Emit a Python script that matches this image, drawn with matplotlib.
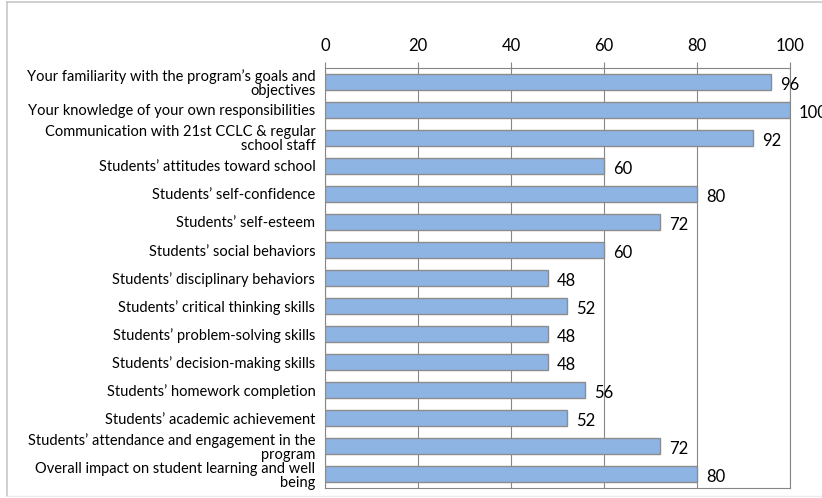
import matplotlib.pyplot as plt
from matplotlib.lines import Line2D

# survey items (top to bottom) and percent of staff responses
items = [
    "Your familiarity with the program\u2019s goals and\nobjectives",
    "Your knowledge of your own responsibilities",
    "Communication with 21st CCLC & regular\nschool staff",
    "Students\u2019 attitudes toward school",
    "Students\u2019 self-confidence",
    "Students\u2019 self-esteem",
    "Students\u2019 social behaviors",
    "Students\u2019 disciplinary behaviors",
    "Students\u2019 critical thinking skills",
    "Students\u2019 problem-solving skills",
    "Students\u2019 decision-making skills",
    "Students\u2019 homework completion",
    "Students\u2019 academic achievement",
    "Students\u2019 attendance and engagement in the\nprogram",
    "Overall impact on student learning and well\nbeing",
]
percent = [96, 100, 92, 60, 80, 72, 60, 48, 52, 48, 48, 56, 52, 72, 80]
x_ticks = [0, 20, 40, 60, 80, 100]

plt.rcParams['font.family'] = ['Lato', 'DejaVu Sans']

fig = plt.figure(figsize=(8.22, 4.98), dpi=100)
ax = fig.add_axes([325 / 822, 1 - 488 / 498, 465 / 822, 420 / 498])

pos = list(range(len(items)))
ax.barh(pos, percent, height=0.58, color='#8EB4E3', edgecolor='#8C8C8C',
        linewidth=1.0, zorder=3)

# value labels to the right of each bar
for y, v in zip(pos, percent):
    ax.annotate(str(v), xy=(v, y), xytext=(6.5, -2), textcoords='offset points',
                va='center', ha='left', fontsize=12, color='black',
                annotation_clip=False)

ax.set_xlim(0, 100)
ax.set_ylim(len(items) - 0.5, -0.5)
ax.set_xticks(x_ticks)
ax.xaxis.tick_top()
ax.tick_params(axis='x', direction='out', length=4, width=0.8, color='#868686',
               pad=6, labelsize=12)
ax.set_yticks(pos)
ax.set_yticklabels(items, fontsize=10.5, linespacing=1.0)
ax.tick_params(axis='y', length=0, pad=7)

# vertical gridlines behind the bars
ax.grid(axis='x', color='#868686', linewidth=0.8, zorder=0)
for side in ['top', 'bottom', 'left', 'right']:
    ax.spines[side].set_color('#868686')
    ax.spines[side].set_linewidth(0.8)

# chart area border
fig.add_artist(Line2D([7 / 822, 7 / 822], [2 / 498, 1 - 2 / 498],
                      color='#C8C8C8', linewidth=1.2))
fig.add_artist(Line2D([7 / 822, 1.0], [1 - 2 / 498, 1 - 2 / 498],
                      color='#C8C8C8', linewidth=1.2))
fig.add_artist(Line2D([7 / 822, 1.0], [2 / 498, 2 / 498],
                      color='#EBEBEB', linewidth=1.0))

fig.savefig('out.png', dpi=100)
